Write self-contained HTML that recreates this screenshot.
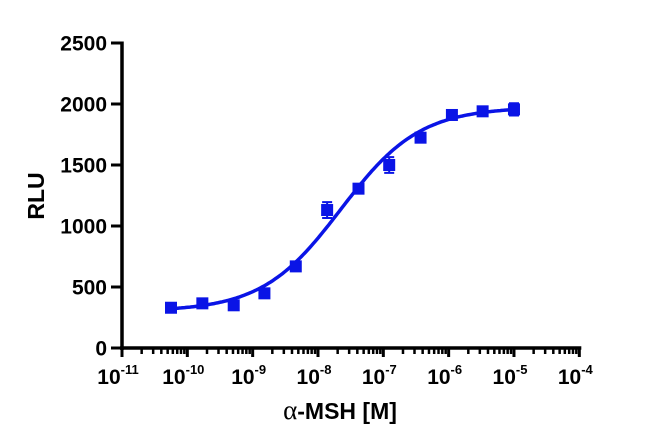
<!DOCTYPE html>
<html><head><meta charset="utf-8"><style>
body{margin:0;background:#fff}
svg{display:block;font-family:"Liberation Sans",Arial,sans-serif;font-weight:bold}
</style></head><body>
<svg id="chart" width="650" height="448"></svg>
<script>
const logConc=[-10.25,-9.77,-9.29,-8.82,-8.34,-7.86,-7.38,-6.91,-6.43,-5.95,-5.48,-5.00];
const rlu=[330,366,350,448,669,1131,1306,1500,1724,1910,1940,1956];
const errs=[15,20,15,20,25,65,30,65,25,30,35,50];
const yTicks=[0,500,1000,1500,2000,2500];
const xTicks=[-11,-10,-9,-8,-7,-6,-5,-4];
const fitBottom=300, fitTop=1975, fitLogEC50=-7.65, fitHill=0.72;

const NS="http://www.w3.org/2000/svg";
const svg=document.getElementById('chart');
const X0=122, DEC=65.33, Y0=348, YS=61/500;
const xs=v=>X0+(v+11)*DEC;
const ys=v=>Y0-v*YS;
function mk(t,a,p){const e=document.createElementNS(NS,t);for(const k in a)e.setAttribute(k,a[k]);(p||svg).appendChild(e);return e;}
const blue="#0a14e6";

const ya=mk('line',{x1:X0,y1:ys(2500)-1.5,x2:X0,y2:Y0+2,stroke:'#000','stroke-width':3.5});


const xa=mk('line',{x1:X0-2,y1:Y0,x2:xs(-4)+2,y2:Y0,stroke:'#000','stroke-width':3.5});



yTicks.forEach(v=>{
  const t=mk('line',{x1:X0-11,y1:ys(v),x2:X0,y2:ys(v),stroke:'#000','stroke-width':3});
  
  
  const l=mk('text',{x:107,y:ys(v)+7.5,'text-anchor':'end','font-size':21});
  l.textContent=v;
  
  
});
xTicks.forEach((d,i)=>{
  const t=mk('line',{x1:xs(d),y1:Y0,x2:xs(d),y2:Y0+9,stroke:'#000','stroke-width':3});
  
  
  if(i<xTicks.length-1){for(let m=2;m<10;m++){const mx=xs(d+Math.log10(m));
    const mt=mk('line',{x1:mx,y1:Y0,x2:mx,y2:Y0+6,stroke:'#000','stroke-width':2.5});
    
    }}
  const l=mk('text',{x:xs(d)-4,y:384,'text-anchor':'middle','font-size':21});
  
  
  const b=mk('tspan',{},l);b.textContent='10';
  const s=mk('tspan',{'font-size':13,dy:-10},l);s.textContent=String(d);
});

let dStr='';
for(let i=0;i<=200;i++){const lx=logConc[0]+(logConc[logConc.length-1]-logConc[0])*i/200;
  const v=fitBottom+(fitTop-fitBottom)/(1+Math.pow(10,(fitLogEC50-lx)*fitHill));
  dStr+=(i?'L':'M')+xs(lx).toFixed(1)+' '+ys(v).toFixed(1);}
const c=mk('path',{d:dStr,fill:'none',stroke:blue,'stroke-width':3.5});



logConc.forEach((lx,i)=>{
  const x=xs(lx),y=ys(rlu[i]),e=errs[i]*YS;
  const eb=mk('path',{d:`M${x} ${y-e}V${y+e}M${x-5} ${y-e}H${x+5}M${x-5} ${y+e}H${x+5}`,stroke:blue,'stroke-width':2,fill:'none'});
  
  
  const r=mk('rect',{x:x-6,y:y-6,width:12,height:12,fill:blue});
  
  
});

const yt=mk('text',{x:0,y:0,transform:'translate(44,196) rotate(-90)','text-anchor':'middle','font-size':23});
yt.textContent='RLU';


const xt=mk('text',{x:340,y:419,'text-anchor':'middle','font-size':23});


const a=mk('tspan',{'font-weight':'normal','font-family':'"Liberation Serif",serif','font-size':27},xt);a.textContent='α';
const r2=mk('tspan',{},xt);r2.textContent='-MSH [M]';
</script>
</body></html>
